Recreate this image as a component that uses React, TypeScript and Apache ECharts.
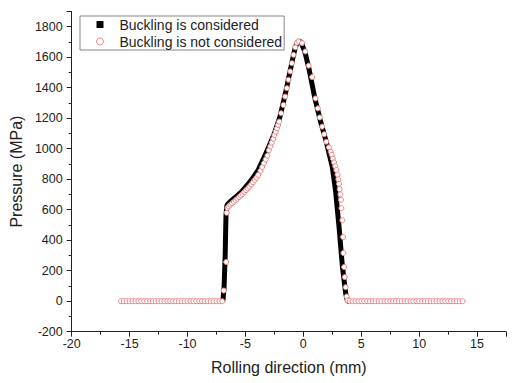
import React, { useEffect, useRef } from "react";
import * as echarts from "echarts";

const FONT = "'Liberation Sans', Arial, Helvetica, sans-serif";

const SERIES_NAMES = ["Buckling is considered", "Buckling is not considered"];

// Buckling considered: dense black squares forming a thick curve
const bucklingX = [
  -6.95, -6.85, -6.75, -6.68, -6.6, -6.3, -5.9, -5.3, -4.7, -4.3, -3.9, -3.5, -3.0, -2.5, -2.0, -1.5,
  -1.0, -0.7, -0.45, -0.2, 0.15, 0.5, 1.0, 1.5, 2.0, 2.5, 2.79, 3.08, 3.37, 3.66, 3.82, 3.95,
];
const bucklingP = [
  0, 80, 300, 560, 630, 655, 680, 720, 775, 815, 860, 925, 1010, 1100, 1215, 1380,
  1560, 1665, 1705, 1700, 1630, 1520, 1330, 1175, 1040, 880, 720, 490, 230, 50, 0, 0,
];

// Buckling not considered: hollow pink circles
const flatLeftX = [
  -15.75, -15.5, -15.25, -15, -14.75, -14.5, -14.25, -14, -13.75, -13.5, -13.25, -13, -12.75, -12.5,
  -12.25, -12, -11.75, -11.5, -11.25, -11, -10.75, -10.5, -10.25, -10, -9.75, -9.5, -9.25, -9, -8.75,
  -8.5, -8.25, -8, -7.75, -7.5, -7.25, -7,
];
const flatRightX = [
  4, 4.25, 4.5, 4.75, 5, 5.25, 5.5, 5.75, 6, 6.25, 6.5, 6.75, 7, 7.25, 7.5, 7.75, 8, 8.25, 8.5, 8.75,
  9, 9.25, 9.5, 9.75, 10, 10.25, 10.5, 10.75, 11, 11.25, 11.5, 11.75, 12, 12.25, 12.5, 12.75, 13,
  13.25, 13.5, 13.75,
];
const noBucklingX = [
  -6.87, -6.66, -6.62, -6.55, -6.45, -6.3, -6.15, -6.0, -5.85, -5.7, -5.55, -5.4, -5.25, -5.1,
  -4.95, -4.8, -4.65, -4.5, -4.35, -4.2, -4.05, -3.9, -3.7, -3.55, -3.4, -3.25, -3.1, -2.97, -2.85,
  -2.73, -2.6, -2.5, -2.38, -2.27, -2.18, -2.09, -1.92, -1.72, -1.57, -1.42, -1.28, -1.13, -0.99,
  -0.85, -0.7, -0.55, -0.41, -0.11, 0.17, 0.46, 0.76, 1.05, 1.25, 1.42, 1.63, 1.8, 1.98, 2.21, 2.36,
  2.45, 2.55, 2.65, 2.75, 2.85, 2.95, 3.02, 3.08, 3.14, 3.2, 3.25, 3.29, 3.37, 3.43, 3.46, 3.52,
  3.58, 3.66, 3.75, 3.82,
];
const noBucklingP = [
  70, 257, 580, 612, 622, 633, 643, 652, 662, 672, 683, 693, 704, 716, 728, 740, 752, 765, 780, 795,
  810, 828, 855, 880, 905, 930, 955, 990, 1015, 1040, 1065, 1090, 1112, 1134, 1156, 1178, 1233,
  1287, 1342, 1397, 1452, 1507, 1561, 1616, 1665, 1695, 1704, 1693, 1638, 1545, 1470, 1330, 1265,
  1205, 1145, 1095, 1046, 1009, 980, 960, 935, 910, 885, 860, 830, 800, 770, 735, 700, 665, 610,
  531, 421, 316, 224, 158, 92, 31, 5,
];

const X_TICK_MIN = -20;
const X_TICK_MAX = 17.5;
const Y_TICK_MIN = -200;
const Y_TICK_MAX = 1900;

export default function App() {
  const ref = useRef<HTMLDivElement>(null);

  useEffect(() => {
    if (!ref.current) return;
    const chart = echarts.init(ref.current, null, { renderer: "svg" });

    const blackData = bucklingX.map((x, i) => [x, bucklingP[i]]);
    const redData = [
      ...flatLeftX.map((x) => [x, 0]),
      ...noBucklingX.map((x, i) => [x, noBucklingP[i]]),
      ...flatRightX.map((x) => [x, 0]),
    ];

    const axisColor = "#222";
    const option = {
      animation: false,
      backgroundColor: "#fff",
      textStyle: { fontFamily: FONT },
      grid: { left: 71, right: 14, top: 11.5, bottom: 51.3, containLabel: false },
      legend: {
        orient: "vertical",
        left: 80,
        top: 16,
        padding: [1, 2, 1, 16],
        itemGap: 2,
        itemWidth: 7,
        itemHeight: 7,
        borderColor: "#888",
        borderWidth: 1,
        borderRadius: 0,
        textStyle: { fontSize: 14, color: "#222", fontFamily: FONT, padding: [0, 0, 0, 11], lineHeight: 15 },
        data: [
          { name: SERIES_NAMES[0], icon: "rect", itemStyle: { color: "#000" } },
          {
            name: SERIES_NAMES[1],
            icon: "circle",
            itemStyle: { color: "#fff", borderColor: "#f08080", borderWidth: 1 },
          },
        ],
      },
      xAxis: {
        type: "value",
        min: X_TICK_MIN,
        max: X_TICK_MAX,
        interval: 5,
        name: "Rolling direction (mm)",
        nameLocation: "middle",
        nameGap: 28,
        nameTextStyle: { fontSize: 16, color: "#222", fontFamily: FONT },
        axisLine: { onZero: false, lineStyle: { color: axisColor, width: 1 } },
        axisTick: { length: 5, lineStyle: { color: axisColor } },
        minorTick: { show: true, splitNumber: 2, length: 3, lineStyle: { color: axisColor } },
        splitLine: { show: false },
        axisLabel: {
          color: "#222",
          fontSize: 12.5,
          fontFamily: FONT,
          margin: 6,
          showMaxLabel: false,
          formatter: (v: number) => String(v),
        },
      },
      yAxis: {
        type: "value",
        min: Y_TICK_MIN,
        max: Y_TICK_MAX,
        interval: 200,
        name: "Pressure (MPa)",
        nameLocation: "middle",
        nameGap: 44,
        nameTextStyle: { fontSize: 16, color: "#222", fontFamily: FONT },
        axisLine: { show: true, onZero: false, lineStyle: { color: axisColor, width: 1 } },
        axisTick: { show: true, length: 5, lineStyle: { color: axisColor } },
        minorTick: { show: true, splitNumber: 2, length: 3, lineStyle: { color: axisColor } },
        splitLine: { show: false },
        axisLabel: {
          color: "#222",
          fontSize: 12.5,
          fontFamily: FONT,
          margin: 9,
          showMaxLabel: false,
          formatter: (v: number) => String(v),
        },
      },
      series: [
        {
          name: SERIES_NAMES[0],
          type: "line",
          data: blackData,
          showSymbol: false,
          symbol: "rect",
          color: "#000",
          lineStyle: { color: "#000", width: 5 },
          z: 2,
        },
        {
          name: SERIES_NAMES[1],
          type: "scatter",
          data: redData,
          symbol: "circle",
          symbolSize: 5,
          itemStyle: { color: "#fff", borderColor: "#f08080", borderWidth: 1, opacity: 1 },
          z: 3,
        },
      ],
    };

    chart.setOption(option as any);
    return () => chart.dispose();
  }, []);

  return (
    <div
      ref={ref}
      style={{ position: "fixed", left: 0, top: 0, width: 520, height: 383, background: "#fff" }}
    />
  );
}
